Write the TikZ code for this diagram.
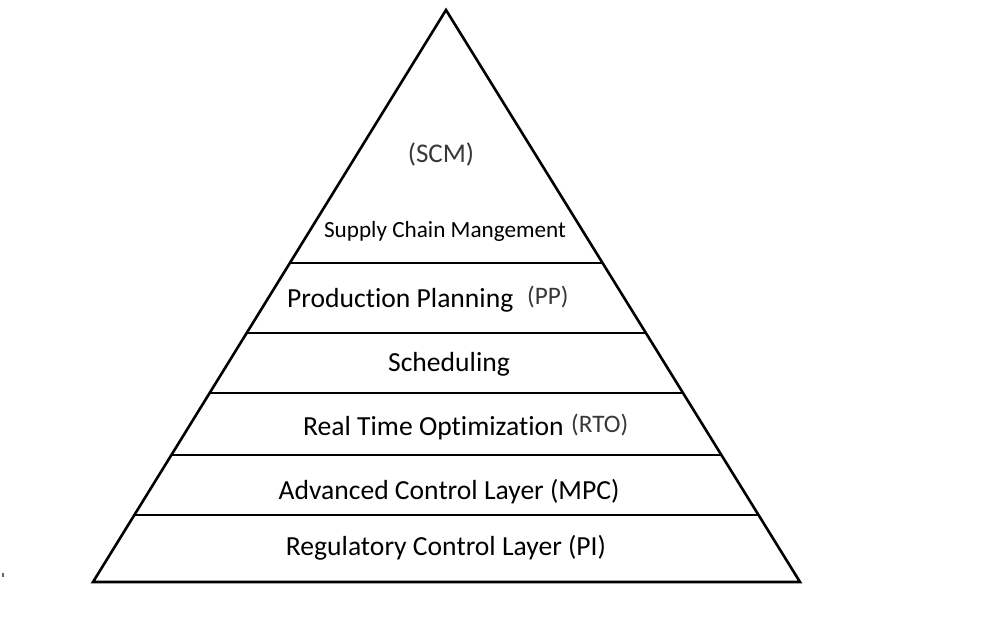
\documentclass[tikz,border=0pt]{standalone}
\usepackage{fontspec}
\setmainfont[Ligatures=NoCommon]{Carlito}
\tikzset{
  layer/.style={line width=2.6pt, line cap=butt},
  lbl/.style={anchor=base, inner sep=0pt, font=\fontsize{27.6}{33}\selectfont, text=black},
  glbl/.style={lbl, text=black!78, font=\fontsize{27}{33}\selectfont},
  abbr/.style={lbl, anchor=base west, text=black!78, font=\fontsize{25.2}{30}\selectfont},
  small/.style={anchor=base, inner sep=0pt, font=\fontsize{23.2}{28}\selectfont, text=black},
}
\begin{document}
\begin{tikzpicture}[x=1pt,y=-1pt]
\useasboundingbox[fill=white] (0,0) rectangle (1008,630);
% pyramid outline
\coordinate (apex) at (446,10);
\coordinate (bl) at (93,582);
\coordinate (br) at (800,582);
\draw[layer, line join=miter] (bl) -- (apex) -- (br) -- cycle;
% layer dividers
\coordinate (l1) at (289.9,263); \coordinate (r1) at (602.4,263);
\coordinate (l2) at (246.7,333); \coordinate (r2) at (645.7,333);
\coordinate (l3) at (209.7,393); \coordinate (r3) at (682.9,393);
\coordinate (l4) at (171.4,455); \coordinate (r4) at (721.3,455);
\coordinate (l5) at (134.4,515); \coordinate (r5) at (758.4,515);
\draw[layer] (l1) -- (r1);
\draw[layer] (l2) -- (r2);
\draw[layer] (l3) -- (r3);
\draw[layer] (l4) -- (r4);
\draw[layer] (l5) -- (r5);
% labels
\node[glbl] (scm) at (441,162) {(SCM)};
\node[small] (scmname) at (445,237) {Supply Chain Mangement};
\node[lbl, anchor=base west] (pp) at (287,307) {Production Planning};
\node[abbr] (ppabbr) at (527,304) {(PP)};
\node[lbl] (sched) at (449,371) {Scheduling};
\node[lbl, anchor=base west] (rto) at (303,435) {Real Time Optimization};
\node[abbr] (rtoabbr) at (571,432) {(RTO)};
\node[lbl] (mpc) at (449,499) {Advanced Control Layer (MPC)};
\node[lbl] (pi) at (446,555) {Regulatory Control Layer (PI)};
% stray speck at left edge
\draw[black!60, line width=1.2pt] (3,573) -- (3,577);
\end{tikzpicture}
\end{document}
